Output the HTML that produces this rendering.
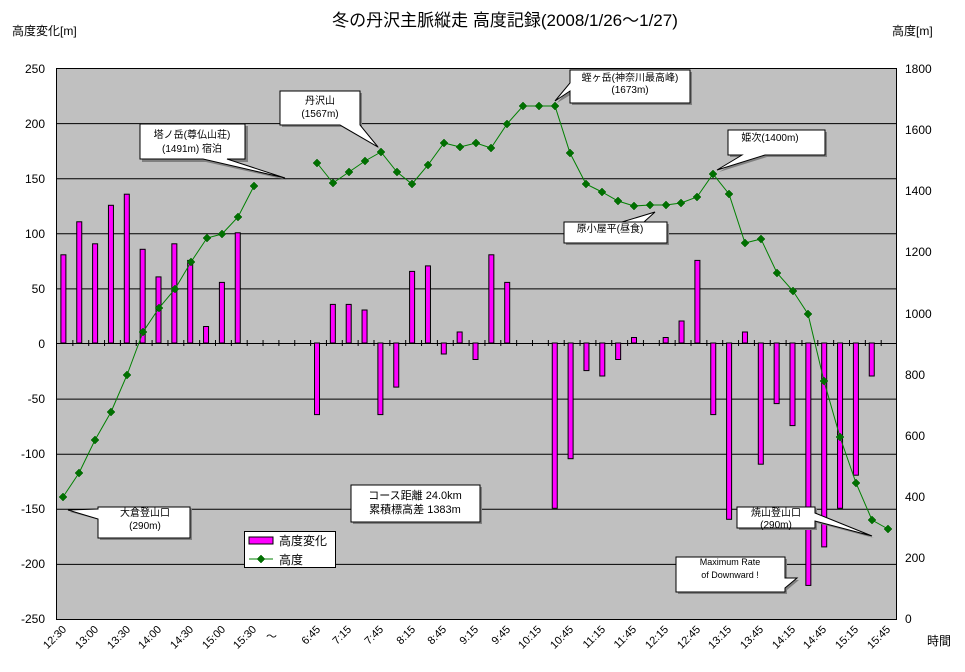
<!DOCTYPE html>
<html><head><meta charset="utf-8"><style>
html,body{margin:0;padding:0;background:#fff;}
svg{display:block;font-family:"Liberation Sans","Noto Sans CJK JP",sans-serif;}
</style></head><body>
<svg width="965" height="672" viewBox="0 0 965 672" xmlns="http://www.w3.org/2000/svg">
<defs>
<g id="dm"><polygon points="0,-4 4,0 0,4 -4,0" fill="#007000" stroke="#006000" stroke-width="0.5"/></g>
</defs>
<text x="505" y="26" font-size="17" text-anchor="middle">冬の丹沢主脈縦走  高度記録(2008/1/26～1/27)</text>
<text x="12" y="35" font-size="12">高度変化[m]</text>
<text x="892" y="35" font-size="12">高度[m]</text>
<rect x="56.5" y="68.5" width="840" height="551" fill="#c0c0c0" stroke="#000" stroke-width="1"/>
<g stroke="#000" stroke-width="1">
<line x1="57" y1="123.6" x2="897" y2="123.6"/><line x1="57" y1="178.7" x2="897" y2="178.7"/>
<line x1="57" y1="233.8" x2="897" y2="233.8"/><line x1="57" y1="288.9" x2="897" y2="288.9"/>
<line x1="57" y1="343.5" x2="897" y2="343.5"/><line x1="57" y1="399.1" x2="897" y2="399.1"/>
<line x1="57" y1="454.2" x2="897" y2="454.2"/><line x1="57" y1="509.3" x2="897" y2="509.3"/>
<line x1="57" y1="564.4" x2="897" y2="564.4"/>
</g>
<g font-size="12" text-anchor="end">
<text x="45" y="73">250</text><text x="45" y="128">200</text><text x="45" y="183">150</text>
<text x="45" y="238">100</text><text x="45" y="293">50</text><text x="45" y="348">0</text>
<text x="45" y="403">-50</text><text x="45" y="458">-100</text><text x="45" y="513">-150</text>
<text x="45" y="568">-200</text><text x="45" y="623">-250</text>
</g>
<g font-size="12">
<text x="905" y="73">1800</text><text x="905" y="134">1600</text><text x="905" y="195">1400</text>
<text x="905" y="256">1200</text><text x="905" y="318">1000</text><text x="905" y="379">800</text>
<text x="905" y="440">600</text><text x="905" y="501">400</text><text x="905" y="562">200</text>
<text x="905" y="623">0</text>
<text x="927" y="645">時間</text>
</g>
<g fill="#ff00ff" stroke="#000" stroke-width="1">
<rect x="60.9" y="254.8" width="5" height="88.2"/><rect x="76.75" y="221.8" width="5" height="121.2"/>
<rect x="92.6" y="243.8" width="5" height="99.2"/><rect x="108.45" y="205.3" width="5" height="137.7"/>
<rect x="124.3" y="194.2" width="5" height="148.8"/><rect x="140.15" y="249.3" width="5" height="93.7"/>
<rect x="156" y="276.9" width="5" height="66.1"/><rect x="171.85" y="243.8" width="5" height="99.2"/>
<rect x="187.7" y="260.4" width="5" height="82.6"/><rect x="203.55" y="326.5" width="5" height="16.5"/>
<rect x="219.4" y="282.4" width="5" height="60.6"/><rect x="235.25" y="232.8" width="5" height="110.2"/>
<rect x="314.5" y="343" width="5" height="71.6"/><rect x="330.35" y="304.4" width="5" height="38.6"/>
<rect x="346.2" y="304.4" width="5" height="38.6"/><rect x="362.05" y="310" width="5" height="33"/>
<rect x="377.9" y="343" width="5" height="71.6"/><rect x="393.75" y="343" width="5" height="44.1"/>
<rect x="409.6" y="271.4" width="5" height="71.6"/><rect x="425.45" y="265.9" width="5" height="77.1"/>
<rect x="441.3" y="343" width="5" height="11"/><rect x="457.15" y="332" width="5" height="11"/>
<rect x="473" y="343" width="5" height="16.5"/><rect x="488.85" y="254.8" width="5" height="88.2"/>
<rect x="504.7" y="282.4" width="5" height="60.6"/><rect x="552.25" y="343" width="5" height="165.3"/>
<rect x="568.1" y="343" width="5" height="115.7"/><rect x="583.95" y="343" width="5" height="27.6"/>
<rect x="599.8" y="343" width="5" height="33"/><rect x="615.65" y="343" width="5" height="16.5"/>
<rect x="631.5" y="337.5" width="5" height="5.5"/><rect x="663.2" y="337.5" width="5" height="5.5"/>
<rect x="679.05" y="321" width="5" height="22"/><rect x="694.9" y="260.4" width="5" height="82.6"/>
<rect x="710.75" y="343" width="5" height="71.6"/><rect x="726.6" y="343" width="5" height="176.3"/>
<rect x="742.45" y="332" width="5" height="11"/><rect x="758.3" y="343" width="5" height="121.2"/>
<rect x="774.15" y="343" width="5" height="60.6"/><rect x="790" y="343" width="5" height="82.6"/>
<rect x="805.85" y="343" width="5" height="242.4"/><rect x="821.7" y="343" width="5" height="203.9"/>
<rect x="837.55" y="343" width="5" height="165.3"/><rect x="853.4" y="343" width="5" height="132.2"/>
<rect x="869.25" y="343" width="5" height="33"/>
</g>
<g stroke="#000" stroke-width="1">
<path d="M72.85 340v6M88.7 340v6M104.55 340v6M120.4 340v6M136.25 340v6M152.1 340v6M167.95 340v6M183.8 340v6M199.65 340v6M215.5 340v6M231.35 340v6M247.2 340v6M263.05 340v6M278.9 340v6M294.75 340v6M310.6 340v6M326.45 340v6M342.3 340v6M358.15 340v6M374 340v6M389.85 340v6M405.7 340v6M421.55 340v6M437.4 340v6M453.25 340v6M469.1 340v6M484.95 340v6M500.8 340v6M516.65 340v6M532.5 340v6M548.35 340v6M564.2 340v6M580.05 340v6M595.9 340v6M611.75 340v6M627.6 340v6M643.45 340v6M659.3 340v6M675.15 340v6M691 340v6M706.85 340v6M722.7 340v6M738.55 340v6M754.4 340v6M770.25 340v6M786.1 340v6M801.95 340v6M817.8 340v6M833.65 340v6M849.5 340v6M865.35 340v6M881.2 340v6"/>
</g>
<g fill="none" stroke="#008000" stroke-width="1">
<polyline points="63,497 79,473 95,440 111,412 127,375 143,332 159,308 175,289 191,262 207,238 222,234 238,217 254,186"/>
<polyline points="317,163 333,183 349,172 365,161 381,152 397,172 412,184 428,165 444,143 460,147 476,143 491,148 507,124 523,106 539,106 555,106 570,153 586,184 602,192 618,201 634,206 650,205 666,205 681,203 697,197 713,174 729,194 745,243 761,239 777,273 793,291 808,314 824,381 840,437 856,483 872,520 888,529"/>
</g>
<g>
<use href="#dm" x="63" y="497"/><use href="#dm" x="79" y="473"/><use href="#dm" x="95" y="440"/><use href="#dm" x="111" y="412"/><use href="#dm" x="127" y="375"/><use href="#dm" x="143" y="332"/><use href="#dm" x="159" y="308"/><use href="#dm" x="175" y="289"/><use href="#dm" x="191" y="262"/><use href="#dm" x="207" y="238"/><use href="#dm" x="222" y="234"/><use href="#dm" x="238" y="217"/><use href="#dm" x="254" y="186"/>
<use href="#dm" x="317" y="163"/><use href="#dm" x="333" y="183"/><use href="#dm" x="349" y="172"/><use href="#dm" x="365" y="161"/><use href="#dm" x="381" y="152"/><use href="#dm" x="397" y="172"/><use href="#dm" x="412" y="184"/><use href="#dm" x="428" y="165"/><use href="#dm" x="444" y="143"/><use href="#dm" x="460" y="147"/><use href="#dm" x="476" y="143"/><use href="#dm" x="491" y="148"/><use href="#dm" x="507" y="124"/><use href="#dm" x="523" y="106"/><use href="#dm" x="539" y="106"/><use href="#dm" x="555" y="106"/><use href="#dm" x="570" y="153"/><use href="#dm" x="586" y="184"/><use href="#dm" x="602" y="192"/><use href="#dm" x="618" y="201"/><use href="#dm" x="634" y="206"/><use href="#dm" x="650" y="205"/><use href="#dm" x="666" y="205"/><use href="#dm" x="681" y="203"/><use href="#dm" x="697" y="197"/><use href="#dm" x="713" y="174"/><use href="#dm" x="729" y="194"/><use href="#dm" x="745" y="243"/><use href="#dm" x="761" y="239"/><use href="#dm" x="777" y="273"/><use href="#dm" x="793" y="291"/><use href="#dm" x="808" y="314"/><use href="#dm" x="824" y="381"/><use href="#dm" x="840" y="437"/><use href="#dm" x="856" y="483"/><use href="#dm" x="872" y="520"/><use href="#dm" x="888" y="529"/>
</g>
<g font-size="11" text-anchor="end">
<text transform="translate(67,630) rotate(-45)">12:30</text>
<text transform="translate(99,630) rotate(-45)">13:00</text>
<text transform="translate(131,630) rotate(-45)">13:30</text>
<text transform="translate(162,630) rotate(-45)">14:00</text>
<text transform="translate(194,630) rotate(-45)">14:30</text>
<text transform="translate(226,630) rotate(-45)">15:00</text>
<text transform="translate(257,630) rotate(-45)">15:30</text>
<text x="277" y="640">～</text>
<text transform="translate(321,630) rotate(-45)">6:45</text>
<text transform="translate(352,630) rotate(-45)">7:15</text>
<text transform="translate(384,630) rotate(-45)">7:45</text>
<text transform="translate(416,630) rotate(-45)">8:15</text>
<text transform="translate(447,630) rotate(-45)">8:45</text>
<text transform="translate(479,630) rotate(-45)">9:15</text>
<text transform="translate(511,630) rotate(-45)">9:45</text>
<text transform="translate(542,630) rotate(-45)">10:15</text>
<text transform="translate(574,630) rotate(-45)">10:45</text>
<text transform="translate(606,630) rotate(-45)">11:15</text>
<text transform="translate(637,630) rotate(-45)">11:45</text>
<text transform="translate(669,630) rotate(-45)">12:15</text>
<text transform="translate(701,630) rotate(-45)">12:45</text>
<text transform="translate(732,630) rotate(-45)">13:15</text>
<text transform="translate(764,630) rotate(-45)">13:45</text>
<text transform="translate(796,630) rotate(-45)">14:15</text>
<text transform="translate(827,630) rotate(-45)">14:45</text>
<text transform="translate(859,630) rotate(-45)">15:15</text>
<text transform="translate(891,630) rotate(-45)">15:45</text>
</g>
<!-- callouts -->
<g stroke="#000" stroke-width="1" font-size="10" text-anchor="middle">
<path d="M142,126 H248 V162 H228 L287,180 L206,162 H142 Z" fill="#808080" stroke="none"/>
<path d="M140,124 H245 V159 H227 L285,178 L203,159 H140 Z" fill="#fff"/>
<text x="192" y="138" stroke="none">塔ノ岳(尊仏山荘)</text><text x="192" y="152" stroke="none">(1491m)  宿泊</text>
<path d="M282,93 H362 V127 L380,149 L342,127 H282 Z" fill="#808080" stroke="none"/>
<path d="M280,91 H360 V125 L378,147 L340,125 H280 Z" fill="#fff"/>
<text x="320" y="104" stroke="none">丹沢山</text><text x="320" y="117" stroke="none">(1567m)</text>
<path d="M572,72 H692 V105 H572 V94 L557,103 L572,85 Z" fill="#808080" stroke="none"/>
<path d="M570,70 H690 V103 H570 V91 L555,101 L570,83 Z" fill="#fff"/>
<text x="630" y="81" stroke="none">蛭ヶ岳(神奈川最高峰)</text><text x="630" y="93" stroke="none">(1673m)</text>
<path d="M730,132 H827 V157 H767 L719,172 L744,157 H730 Z" fill="#808080" stroke="none"/>
<path d="M728,130 H825 V155 H765 L717,170 L742,155 H728 Z" fill="#fff"/>
<text x="770" y="141" stroke="none">姫次(1400m)</text>
<path d="M566,224 H669 V245 H566 Z" fill="#808080" stroke="none"/>
<path d="M564,222 H667 V243 H564 V222 H622 L655,212 L644,222 Z" fill="#fff"/>
<text x="610" y="232" stroke="none">原小屋平(昼食)</text>
<path d="M100,509 H192 V540 H100 V520 L70,512 L100,511 Z" fill="#808080" stroke="none"/>
<path d="M98,507 H190 V538 H98 V519 L68,510 L98,509 Z" fill="#fff"/>
<text x="145" y="516" stroke="none">大倉登山口</text><text x="145" y="529" stroke="none">(290m)</text>
<path d="M739,509 H817 V515 L874,538 L817,523 V530 H739 Z" fill="#808080" stroke="none"/>
<path d="M737,507 H815 V513 L872,536 L815,521 V528 H737 Z" fill="#fff"/>
<text x="776" y="516" stroke="none">焼山登山口</text><text x="776" y="528" stroke="none">(290m)</text>
<path d="M678,559 H787 V580 L799,580 L787,590 V594 H678 Z" fill="#808080" stroke="none"/>
<path d="M676,557 H785 V578 L797,578 L785,588 V592 H676 Z" fill="#fff"/>
<g font-size="9"><text x="730" y="565" stroke="none">Maximum Rate</text><text x="730" y="578" stroke="none">of Downward !</text></g>
<rect x="353" y="487" width="129" height="37" fill="#808080" stroke="none"/>
<rect x="351" y="485" width="129" height="37" fill="#fff"/>
<g font-size="11"><text x="415" y="499" stroke="none">コース距離  24.0km</text><text x="415" y="513" stroke="none">累積標高差  1383m</text></g>
</g>
<rect x="244.5" y="531.5" width="91" height="36" fill="#fff" stroke="#000"/>
<rect x="249" y="537" width="24" height="7" fill="#ff00ff" stroke="#000"/>
<text x="279" y="545" font-size="12">高度変化</text>
<line x1="249" y1="559" x2="273" y2="559" stroke="#008000"/>
<use href="#dm" x="261" y="559"/>
<text x="279" y="564" font-size="12">高度</text>
</svg>
</body></html>
